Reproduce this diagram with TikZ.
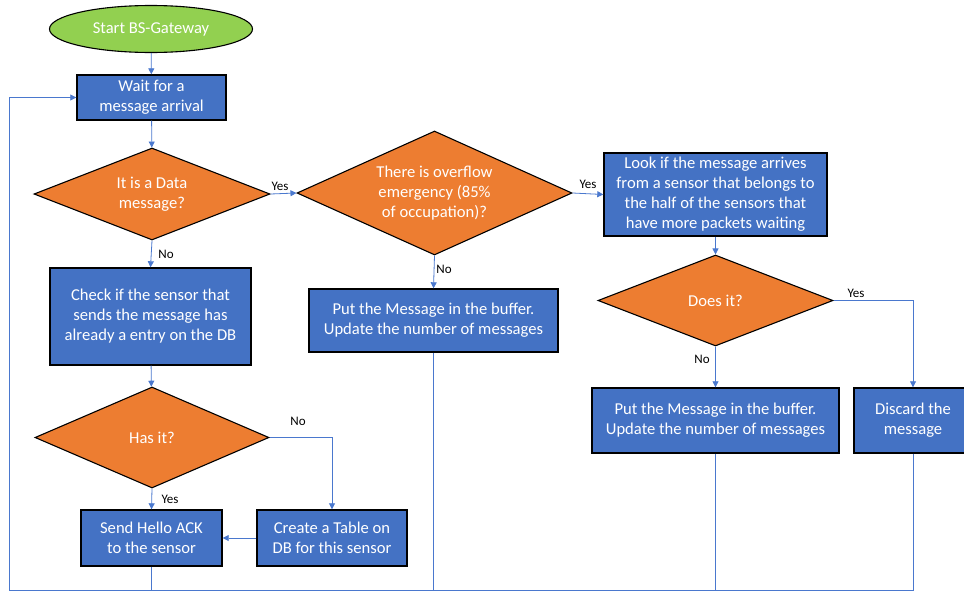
\documentclass[tikz,border=0pt]{standalone}
\usepackage{fontspec}
\setmainfont{Carlito}
\usetikzlibrary{shapes.geometric,arrows.meta}
\definecolor{bbox}{HTML}{4472C4}
\definecolor{odia}{HTML}{ED7D31}
\definecolor{ogreen}{HTML}{92D050}
\definecolor{cline}{HTML}{4A78CE}
\begin{document}
\begin{tikzpicture}[x=1pt,y=-1pt,
  txt/.style={text=white,font=\fontsize{16.6}{20}\selectfont,align=center},
  box/.style={rectangle,draw=black,line width=1.4pt,fill=bbox,txt,inner sep=0pt},
  dia/.style={diamond,draw=black,line width=1.1pt,fill=odia,inner sep=0pt,aspect=2.4},
  dtext/.style={txt},
  lab/.style={font=\fontsize{13}{15}\selectfont,text=black,inner sep=0pt},
  conn/.style={draw=cline,line width=0.8pt},
  arr/.style={conn,-{Triangle[length=6pt,width=6pt]}}]
\useasboundingbox (0,0) rectangle (964,592);
\node[ellipse,draw=black,line width=1.1pt,fill=ogreen,txt,minimum width=203pt,minimum height=47pt,inner sep=0pt] (start) at (151,29) {Start BS-Gateway};
\node[box,minimum width=149pt,minimum height=45pt] (wait) at (151.5,97.5) {Wait for a\\message arrival};
\node[dia,minimum width=236pt,minimum height=92pt,label={[dtext]center:It is a Data\\message?}] (d1) at (152,194) {};
\node[box,minimum width=201pt,minimum height=97pt] (check) at (150.5,316.5) {Check if the sensor that\\sends the message has\\already a entry on the DB};
\node[dia,minimum width=234pt,minimum height=101pt,label={[dtext]center:Has it?}] (d4) at (152,437.5) {};
\node[box,minimum width=141pt,minimum height=56pt] (send) at (151.5,538) {Send Hello ACK\\to the sensor};
\node[box,minimum width=150pt,minimum height=56pt] (create) at (332,538) {Create a Table on\\DB for this sensor};
\node[dia,minimum width=275pt,minimum height=124pt,label={[dtext]center:There is overflow\\emergency (85\%\\of occupation)?}] (d2) at (434.5,193) {};
\node[box,minimum width=249pt,minimum height=63pt] (put1) at (433.5,320.5) {Put the Message in the buffer.\\Update the number of messages};
\node[box,minimum width=223pt,minimum height=83pt] (look) at (715.5,194.5) {Look if the message arrives\\from a sensor that belongs to\\the half of the sensors that\\have more packets waiting};
\node[dia,minimum width=235pt,minimum height=91pt,label={[dtext]center:Does it?}] (d3) at (715.5,300.5) {};
\node[box,minimum width=247pt,minimum height=65pt] (put2) at (715.5,420.5) {Put the Message in the buffer.\\Update the number of messages};
\node[box,minimum width=118pt,minimum height=65pt] (discard) at (913,420.5) {Discard the\\message};
\coordinate (bl) at (9,590.5);
% arrows
\draw[arr] (start) -- (wait);
\draw[arr] (wait) -- (d1);
\draw[arr] (d1.east) -- (d2.west);
\draw[arr] (d1.south) -- (check.north);
\draw[arr] (check) -- (d4);
\draw[arr] (d4.south) -- (send.north);
\draw[arr] (d4.east) -| (create.north);
\draw[arr] (create.west) -- (send.east);
\draw[arr] (d2.east) -- (look.west);
\draw[arr] (d2.south) -- (put1.north);
\draw[arr] (look.south) -- (d3.north);
\draw[arr] (d3.south) -- (put2.north);
\draw[arr] (d3.east) -| (discard.north);
% loop back
\draw[conn] (send.south) -- (send.south |- bl);
\draw[conn] (put1.south) -- (put1.south |- bl);
\draw[conn] (put2.south) -- (put2.south |- bl);
\draw[arr] (discard.south) |- (bl) |- (wait.west);
% labels
\node[lab] (l1) at (280,186) {Yes};
\node[lab] (l2) at (166,254) {No};
\node[lab] (l3) at (444,269) {No};
\node[lab] (l4) at (588,184) {Yes};
\node[lab] (l5) at (856,293) {Yes};
\node[lab] (l6) at (702,359) {No};
\node[lab] (l7) at (298,421) {No};
\node[lab] (l8) at (170,499) {Yes};
\end{tikzpicture}
\end{document}
